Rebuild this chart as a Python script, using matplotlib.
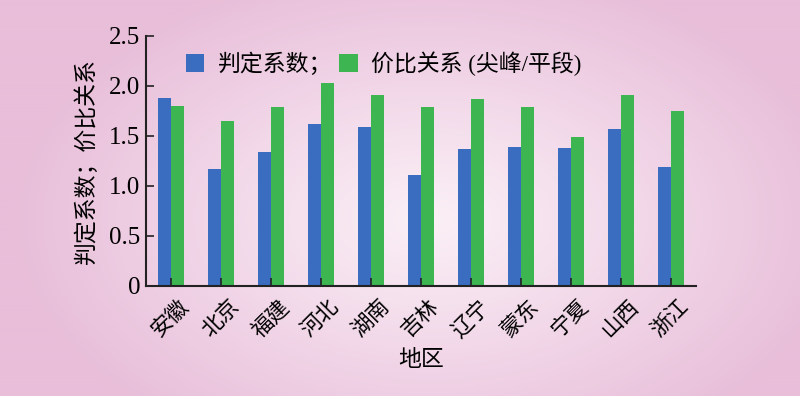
import numpy as np
import matplotlib.pyplot as plt
from matplotlib.colors import LinearSegmentedColormap

regions = ['安徽', '北京', '福建', '河北', '湖南', '吉林', '辽宁', '蒙东', '宁夏', '山西', '浙江']
judge_coef = [1.88, 1.17, 1.34, 1.62, 1.59, 1.11, 1.37, 1.39, 1.38, 1.57, 1.19]
price_ratio = [1.80, 1.65, 1.79, 2.03, 1.91, 1.79, 1.87, 1.79, 1.49, 1.91, 1.75]
legend_labels = ['判定系数；', '价比关系 (尖峰/平段)']
yticks = [0, 0.5, 1.0, 1.5, 2.0, 2.5]
ytick_labels = ['0', '0.5', '1.0', '1.5', '2.0', '2.5']

fonts = ['Liberation Serif', 'Noto Sans CJK SC']
plt.rcParams['font.family'] = fonts

fig = plt.figure(figsize=(8, 3.96), dpi=100)

# pink radial background
bg = fig.add_axes([0, 0, 1, 1], zorder=-10)
xx, yy = np.meshgrid(np.linspace(0, 800, 400), np.linspace(0, 396, 200))
r = np.sqrt(((xx - 430) / 420) ** 2 + ((yy - 220) / 260) ** 2)
cmap = LinearSegmentedColormap.from_list('pink', ['#fbf0f6', '#f2d8e9', '#e8bed9'])
bg.imshow(np.clip(r, 0, 1), cmap=cmap, extent=[0, 800, 396, 0], aspect='auto', vmin=0, vmax=1)
bg.axis('off')

ax = fig.add_axes([0.1825, 0.279, 0.6875, 0.631])
ax.patch.set_alpha(0)

x = np.arange(len(regions))
w = 0.267
ax.bar(x - w / 2, judge_coef, w, color='#3a6cbf', label=legend_labels[0])
ax.bar(x + w / 2, price_ratio, w, color='#3db550', label=legend_labels[1])

ax.set_xlim(-0.5, len(regions) - 0.5)
ax.set_ylim(0, 2.5)
ax.set_yticks(yticks)
ax.set_yticklabels(ytick_labels, fontsize=18)
ax.set_xticks(x)
ax.set_xticklabels(regions, rotation=45, ha='center', fontsize=15.5)
ax.tick_params(axis='both', direction='in', length=6, width=1.2, color='#222222')
ax.tick_params(axis='x', pad=8)
ax.tick_params(axis='y', pad=4)
for s in ['top', 'right']:
    ax.spines[s].set_visible(False)
for s in ['left', 'bottom']:
    ax.spines[s].set_linewidth(1.5)
    ax.spines[s].set_color('#222222')

ax.set_ylabel('判定系数；价比关系', fontsize=16.5, labelpad=8)
ax.set_xlabel('地区', fontsize=16.5, labelpad=6)

ax.legend(loc='upper left', bbox_to_anchor=(0.035, 1.02), ncol=2, frameon=False,
          fontsize=16.5, handlelength=0.8, handleheight=0.8, columnspacing=0.3, handletextpad=0.6)

fig.savefig('out.png', dpi=100)
